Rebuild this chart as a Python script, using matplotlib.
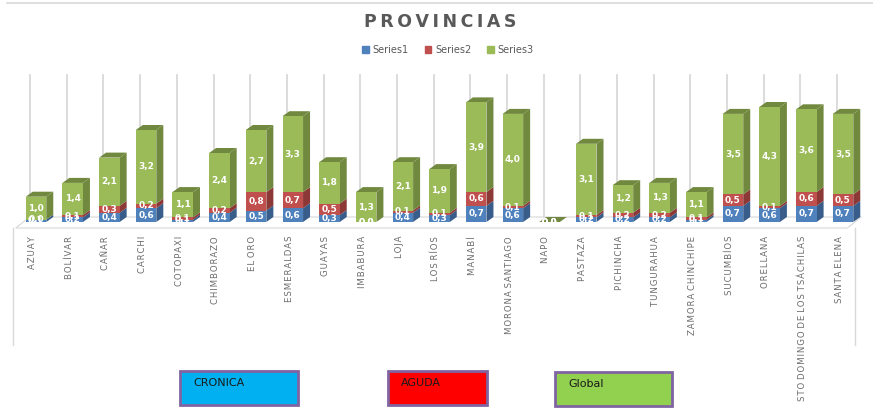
import numpy as np
import matplotlib.pyplot as plt
from matplotlib.patches import Polygon, Rectangle, Patch
from matplotlib.lines import Line2D

# ----------------------------------------------------
# data
# ----------------------------------------------------
provincias = ["AZUAY", "BOLÍVAR", "CAÑAR", "CARCHI", "COTOPAXI", "CHIMBORAZO",
              "EL ORO", "ESMERALDAS", "GUAYAS", "IMBABURA", "LOJA", "LOS RÍOS",
              "MANABÍ", "MORONA SANTIAGO", "NAPO", "PASTAZA", "PICHINCHA",
              "TUNGURAHUA", "ZAMORA CHINCHIPE", "SUCUMBÍOS", "ORELLANA",
              "STO DOMINGO DE LOS TSÁCHILAS", "SANTA ELENA"]
series1 = [0.1, 0.2, 0.4, 0.6, 0.1, 0.4, 0.5, 0.6, 0.3, 0.0, 0.4, 0.3,
           0.7, 0.6, 0.0, 0.2, 0.2, 0.2, 0.1, 0.7, 0.6, 0.7, 0.7]
series2 = [0.0, 0.1, 0.3, 0.2, 0.1, 0.2, 0.8, 0.7, 0.5, 0.0, 0.1, 0.1,
           0.6, 0.1, 0.0, 0.1, 0.2, 0.2, 0.1, 0.5, 0.1, 0.6, 0.5]
series3 = [1.0, 1.4, 2.1, 3.2, 1.1, 2.4, 2.7, 3.3, 1.8, 1.3, 2.1, 1.9,
           3.9, 4.0, 0.0, 3.1, 1.2, 1.3, 1.1, 3.5, 4.3, 3.6, 3.5]
series_names = ["Series1", "Series2", "Series3"]
cajas = ["CRONICA", "AGUDA", "Global"]

# ----------------------------------------------------
# styling
# ----------------------------------------------------
W, H = 873, 412
front = ["#4F81BD", "#C0504D", "#9BBB59"]
side = ["#385D8A", "#8C3836", "#71893F"]
txt_gray = "#595959"
grid_gray = "#D9D9D9"

def spaced(s, sep="\u200a"):
    # letter spacing; word gaps stay a single space
    return " ".join(sep.join(w) for w in s.split(" "))

def px(x0, y0, x1, y1):
    # pixel box (top-left origin) -> figure fraction rect
    return [x0 / W, 1 - y1 / H, (x1 - x0) / W, (y1 - y0) / H]

fig = plt.figure(figsize=(W / 100, H / 100), dpi=100)
fig.patch.set_facecolor("white")

# plot area: floor at y=222 px, top at 60 px
ax = fig.add_axes(px(12, 60, 868, 222))
ax.set_facecolor("none")
n = len(provincias)
x = np.arange(n)
xpp = 22 / 807.0  # data units per pixel
ax.set_xlim(-24 * xpp, 22 + 25 * xpp)
ypp = 1 / 23.0
ax.set_ylim(0, 162 * ypp)

bw = 0.56
dx, dy = 7 * xpp, 5 * ypp

# back-wall gridlines
for xi in x:
    ax.plot([xi - 0.16, xi - 0.16], [dy, 147 * ypp], color=grid_gray, lw=1.3,
            zorder=0, clip_on=False)

# floor
floor = Polygon([(-24 * xpp + 0.1, -6 * ypp), (-24 * xpp + 0.1 + dx * 2, dy),
                 (22 + 0.5, dy), (22 + 0.5 - dx * 2, -6 * ypp)],
                closed=True, fill=False, ec=grid_gray, lw=0.8, clip_on=False, zorder=0)
ax.add_patch(floor)

bottoms = np.zeros(n)
for k, vals in enumerate([series1, series2, series3]):
    vals = np.array(vals)
    ax.bar(x, vals, bw, bottom=bottoms, color=front[k], zorder=3, lw=0)
    for xi, b, v in zip(x, bottoms, vals):
        r = xi + bw / 2
        ax.add_patch(Polygon([(r, b), (r + dx, b + dy), (r + dx, b + v + dy), (r, b + v)],
                             closed=True, fc=side[k], lw=0, zorder=2))
        if k == 2:
            l = xi - bw / 2
            t = b + v
            ax.add_patch(Polygon([(l, t), (l + dx, t + dy), (r + dx, t + dy), (r, t)],
                                 closed=True, fc=side[k], lw=0, zorder=2))
        lbl = f"{v:.1f}".replace(".", ",")
        ax.text(xi, b + v / 2, lbl, ha="center", va="center", color="white",
                fontsize=6.5, fontweight="bold", zorder=5)
    bottoms = bottoms + vals

ax.set_xticks(x - 0.1)
ax.set_xticklabels([spaced(p) for p in provincias], rotation=90, fontsize=6.2,
                   color="#6b6b6b", va="top", ha="center")
ax.tick_params(axis="x", length=0, pad=10)
ax.set_yticks([])
for s in ax.spines.values():
    s.set_visible(False)

# chart frame lines
fig.add_artist(Line2D([7 / W, 1], [1 - 3 / H] * 2, color=grid_gray, lw=1.2))
fig.add_artist(Line2D([13 / W] * 2, [1 - 228 / H, 1 - 345 / H], color=grid_gray, lw=1))
fig.add_artist(Line2D([855 / W] * 2, [1 - 228 / H, 1 - 345 / H], color=grid_gray, lw=1))

# title + legend
fig.text(440 / W, 1 - 22 / H, spaced("PROVINCIAS", "\u200a\u200a"), ha="center",
         va="center", fontsize=12.5, fontweight="bold", color=txt_gray)
handles = [Patch(color=c) for c in front]
fig.legend(handles, series_names, loc="center", bbox_to_anchor=(448 / W, 1 - 50 / H),
           ncol=3, frameon=False, fontsize=7, handlelength=0.7, handleheight=0.7,
           handletextpad=0.4, columnspacing=1.6, labelcolor=txt_gray)

# boxes at the bottom
box_fc = ["#00B0F0", "#FF0000", "#92D050"]
box_px = [(180, 371, 298, 405), (388, 371, 487, 405), (555, 372, 672, 406)]
for name, fc, (x0, y0, x1, y1) in zip(cajas, box_fc, box_px):
    fig.add_artist(Rectangle((x0 / W, 1 - y1 / H), (x1 - x0) / W, (y1 - y0) / H,
                             fc=fc, ec="#8064A2", lw=2))
    fig.text((x0 + 13) / W, 1 - (y0 + 12) / H, name, ha="left", va="center",
             fontsize=8, color="#1a1a1a")

plt.savefig("out.png", dpi=100)
